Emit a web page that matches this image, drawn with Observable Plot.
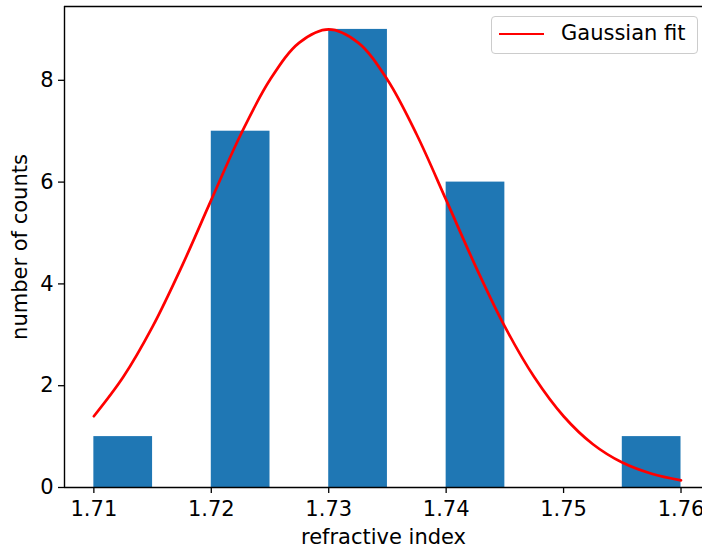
<!DOCTYPE html>
<html>
<head>
<meta charset="utf-8">
<script src="https://cdn.jsdelivr.net/npm/d3@7"></script>
<script src="https://cdn.jsdelivr.net/npm/@observablehq/plot@0.6"></script>
<style>
  html, body { margin: 0; padding: 0; background: #fff; overflow: hidden; }
  #wrap { position: relative; width: 702px; height: 549px; font-family: "DejaVu Sans", sans-serif; }
  #legend { position: absolute; left: 491px; top: 16px; width: 205px; height: 36px; border: 1px solid #cccccc; border-radius: 4px; background: rgba(255,255,255,0.8); }
  #legend .sw { position: absolute; left: 7px; top: 15.5px; width: 45px; height: 2.6px; background: #ff0000; }
  #legend .lab { position: absolute; left: 69px; top: 4px; font-size: 21px; color: #000; line-height: 24px; white-space: nowrap; }
</style>
</head>
<body>
<div id="wrap"><div id="legend"><div class="sw"></div><div class="lab">Gaussian fit</div></div></div>
<script>
// Histogram bins (refractive index edges) and counts
const binStart = [1.710, 1.720, 1.730, 1.740, 1.755];
const binEnd   = [1.715, 1.725, 1.735, 1.745, 1.760];
const counts   = [1, 7, 9, 6, 1];

// Gaussian fit curve
const fitX = [1.7100, 1.7125, 1.7150, 1.7175, 1.7200, 1.7225, 1.7250, 1.7275, 1.7300, 1.7325, 1.7350,
              1.7375, 1.7400, 1.7425, 1.7450, 1.7475, 1.7500, 1.7525, 1.7550, 1.7575, 1.7600];
const fitY = [1.40, 2.17, 3.16, 4.35, 5.65, 6.93, 8.01, 8.74, 9.00, 8.74, 8.01,
              6.93, 5.65, 4.35, 3.16, 2.17, 1.40, 0.85, 0.49, 0.27, 0.14];

const xTicks = [1.71, 1.72, 1.73, 1.74, 1.75, 1.76];
const yTicks = [0, 2, 4, 6, 8];
const xDomain = [1.7075, 1.76183];
const yDomain = [0, 9.45];

const bars = counts.map((c, i) => ({x1: binStart[i], x2: binEnd[i], y: c}));
const fit = fitX.map((x, i) => ({x, y: fitY[i]}));

const chart = Plot.plot({
  width: 702,
  height: 549,
  marginLeft: 64,
  marginRight: 0,
  marginTop: 6,
  marginBottom: 62,
  style: {fontFamily: "DejaVu Sans, sans-serif", fontSize: "21px", color: "#000", background: "#fff"},
  x: {domain: xDomain},
  y: {domain: yDomain},
  marks: [
    Plot.rectY(bars, {x1: "x1", x2: "x2", y: "y", fill: "#1f77b4", inset: 0}),
    Plot.line(fit, {x: "x", y: "y", stroke: "#ff0000", strokeWidth: 2.7, curve: "catmull-rom"}),
    Plot.ruleX([xDomain[0]], {stroke: "#000", strokeWidth: 1.4}),
    Plot.ruleY(yDomain, {stroke: "#000", strokeWidth: 1.4}),
    Plot.axisX(xTicks, {tickSize: 6, tickPadding: 8, tickFormat: d3.format(".2f"), fontSize: 21, strokeWidth: 1.3,
      label: "refractive index", labelAnchor: "center", labelArrow: "none", labelOffset: 56}),
    Plot.axisY(yTicks, {tickSize: 6, tickPadding: 5, tickFormat: d3.format("d"), fontSize: 21, strokeWidth: 1.3,
      label: "number of counts", labelAnchor: "center", labelArrow: "none", labelOffset: 52})
  ]
});
document.getElementById("wrap").prepend(chart);
chart.style.position = "absolute";
chart.style.left = "0";
chart.style.top = "0";
</script>
</body>
</html>
